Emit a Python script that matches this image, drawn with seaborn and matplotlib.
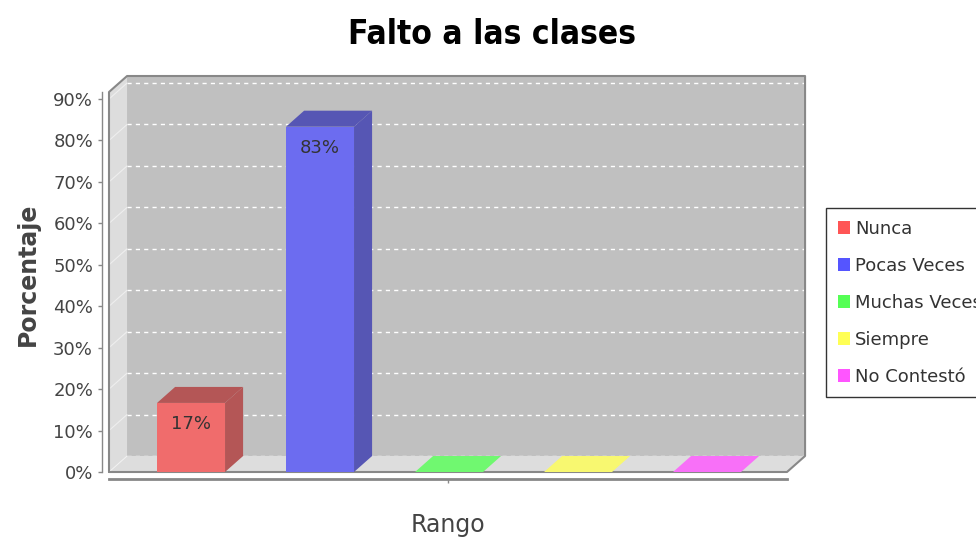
import numpy as np
import pandas as pd
import seaborn as sns
import matplotlib.pyplot as plt
from matplotlib.patches import Polygon, Patch

#%% data
categorias = ["Nunca", "Pocas Veces", "Muchas Veces", "Siempre", "No Contestó"]
porcentajes = [16.67, 83.33, 0.0, 0.0, 0.0]
etiquetas = ["17%", "83%", "", "", ""]
ticks_y = [0, 10, 20, 30, 40, 50, 60, 70, 80, 90]

# colores (serie, cara frontal, cara lateral/superior)
col_leyenda = ["#FF5555", "#5555FF", "#55FF55", "#FFFF55", "#FF55FF"]
col_frente = ["#F06C6C", "#6C6CF0", "#70F870", "#F8F870", "#F870F8"]
col_lado = ["#B45656", "#5656B4", "#56B456", "#B4B456", "#B456B4"]

df = pd.DataFrame({"rango": categorias, "porcentaje": porcentajes})

#%% style
sns.set_theme(style="white")
plt.rcParams["font.family"] = ["DejaVu Sans"]

fig = plt.figure(figsize=(9.76, 5.4), dpi=100)
ax = fig.add_axes([109/976, 68/540, 678/976, 380/540])
ax.patch.set_visible(False)

sns.barplot(data=df, x="rango", y="porcentaje", hue="rango", palette=col_frente,
            saturation=1, width=0.527, legend=False, ax=ax, linewidth=0)

x0, x1 = -0.636, 4.62
y0, y1 = 0, 91.7
ax.set_xlim(x0, x1)
ax.set_ylim(y0, y1)

# profundidad 3D (en unidades de datos)
dx, dy = 0.14, 3.86

#%% paredes
pared = Polygon([(x0+dx, dy), (x1+dx, dy), (x1+dx, y1+dy), (x0+dx, y1+dy)],
                closed=True, fc="#C0C0C0", ec="none", clip_on=False, zorder=0.1)
ax.add_patch(pared)
izq = Polygon([(x0, 0), (x0+dx, dy), (x0+dx, y1+dy), (x0, y1)],
              closed=True, fc="#DDDDDD", ec="none", clip_on=False, zorder=0.3)
ax.add_patch(izq)
piso = Polygon([(x0, 0), (x1, 0), (x1+dx, dy), (x0+dx, dy)],
               closed=True, fc="#DDDDDD", ec="none", clip_on=False, zorder=0.3)
ax.add_patch(piso)

for v in ticks_y:
    ax.plot([x0+dx, x1+dx], [v+dy, v+dy], color="white", lw=1, ls=(0, (3, 3)),
            clip_on=False, zorder=0.2)
    ax.plot([x0, x0+dx], [v, v+dy], color="white", lw=0.8, alpha=0.5,
            clip_on=False, zorder=0.35)

ax.plot([x0, x0, x0+dx, x1+dx, x1+dx, x1, x0],
        [0, y1, y1+dy, y1+dy, dy, 0, 0],
        color="#888888", lw=1.5, clip_on=False, zorder=0.4)

#%% barras 3D
for p in list(ax.patches):
    if not isinstance(p, plt.Rectangle):
        continue
    bx0 = p.get_x()
    bx1 = bx0 + p.get_width()
    h = p.get_height()
    p.set_zorder(2)
    k = int(round(bx0 + p.get_width()/2))
    if h > 0:
        lado = Polygon([(bx1, 0), (bx1+dx, dy), (bx1+dx, h+dy), (bx1, h)],
                       closed=True, fc=col_lado[k], ec="none", zorder=1.5, clip_on=False)
        tapa = Polygon([(bx0, h), (bx1, h), (bx1+dx, h+dy), (bx0+dx, h+dy)],
                       closed=True, fc=col_lado[k], ec="none", zorder=1.5, clip_on=False)
        ax.add_patch(lado)
        ax.add_patch(tapa)
    else:
        tapa = Polygon([(bx0, 0), (bx1, 0), (bx1+dx, dy), (bx0+dx, dy)],
                       closed=True, fc=col_frente[k], ec="none", zorder=1.5, clip_on=False)
        ax.add_patch(tapa)

for i, (v, lab) in enumerate(zip(porcentajes, etiquetas)):
    if lab:
        ax.annotate(lab, (i, v), xytext=(0, -15), textcoords="offset points",
                    ha="center", va="center", fontsize=13, color="#333333", zorder=3)

#%% ejes
sns.despine(ax=ax, top=True, right=True)
ax.spines["left"].set_position(("outward", 5))
ax.spines["bottom"].set_position(("outward", 5))
for s in ["left", "bottom"]:
    ax.spines[s].set_color("#888888")
ax.spines["left"].set_linewidth(1)
ax.spines["bottom"].set_linewidth(2)

ax.set_yticks(ticks_y)
ax.set_yticklabels([f"{t}%" for t in ticks_y])
ax.set_xticks([(x0 + x1) / 2])
ax.set_xticklabels([""])
ax.tick_params(axis="both", direction="out", length=3, width=1, color="#888888",
               labelsize=13, labelcolor="#444444", left=True, bottom=True)

ax.set_ylabel("Porcentaje", fontsize=17, fontweight="bold", color="#444444")
ax.yaxis.set_label_coords(-0.102, 0.521)
ax.set_xlabel("Rango", fontsize=17, color="#444444", labelpad=18)

fig.text(492/976, 1 - 35/540, "Falto a las clases", ha="center", va="center",
         fontsize=24, fontweight="bold", fontstretch="condensed", color="black",
         family=["DejaVu Sans"])

handles = [Patch(fc=c, ec="none", label=l) for c, l in zip(col_leyenda, categorias)]
leg = fig.legend(handles=handles, loc="upper left", bbox_to_anchor=(826/976, 1 - 208/540),
                 frameon=True, fancybox=False, edgecolor="black", fontsize=13,
                 handlelength=0.7, handleheight=0.7, handletextpad=0.25,
                 labelspacing=1.05, borderpad=0.65, borderaxespad=0)
leg.get_frame().set_linewidth(1)
for t in leg.get_texts():
    t.set_color("#333333")

fig.savefig("out.png", dpi=100)
